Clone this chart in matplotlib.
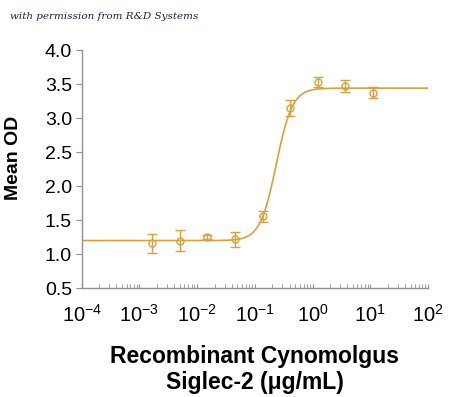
import numpy as np
import matplotlib
matplotlib.use("Agg")
import matplotlib.pyplot as plt
from matplotlib.ticker import LogLocator, FixedLocator

# data
conc = [0.00168, 0.00503, 0.0151, 0.0453, 0.136, 0.407, 1.22, 3.67, 11.0]
mean_od = [1.16, 1.20, 1.25, 1.22, 1.56, 3.15, 3.53, 3.47, 3.37]
err_od = [0.14, 0.15, 0.03, 0.11, 0.08, 0.12, 0.07, 0.09, 0.08]

# 4PL fit parameters (bottom, top, EC50, hill)
fit_bottom = 1.20
fit_top = 3.44
fit_ec50 = 0.235
fit_hill = 3.1

x_ticks = [1e-4, 1e-3, 1e-2, 1e-1, 1e0, 1e1, 1e2]
x_ticklabels = ["$10^{-4}$", "$10^{-3}$", "$10^{-2}$", "$10^{-1}$",
                "$10^{0}$", "$10^{1}$", "$10^{2}$"]
y_ticks = [0.5, 1.0, 1.5, 2.0, 2.5, 3.0, 3.5, 4.0]

col = "#D9A03C"
plt.rcParams["font.family"] = ["Liberation Sans", "DejaVu Sans"]
plt.rcParams["mathtext.fontset"] = "custom"
plt.rcParams["mathtext.rm"] = "Liberation Sans"
plt.rcParams["mathtext.it"] = "Liberation Sans"

fig = plt.figure(figsize=(4.5, 3.97), dpi=100)
ax = fig.add_axes([0.1816, 0.274, 0.951 - 0.1816, 0.874 - 0.274])

xs = np.logspace(-4, 2, 400)
ys = fit_bottom + (fit_top - fit_bottom) / (1 + (fit_ec50 / xs) ** fit_hill)
ax.plot(xs, ys, color=col, lw=1.2)
ax.errorbar(conc, mean_od, yerr=err_od, fmt="o", mfc="none", mec=col,
            ecolor=col, ms=5, mew=1.0, elinewidth=1.0, capsize=3.5, capthick=1.0)

ax.set_xscale("log")
ax.set_xlim(1e-4, 1e2)
ax.set_ylim(0.5, 4.0)
ax.xaxis.set_major_locator(FixedLocator(x_ticks))
ax.set_xticklabels(x_ticklabels, fontsize=14.5)
ax.xaxis.set_minor_locator(LogLocator(base=10, subs=np.arange(2, 10)))
ax.set_yticks(y_ticks)
ax.set_yticklabels(["%.1f" % v for v in y_ticks], fontsize=14)

for s in ["top", "right"]:
    ax.spines[s].set_visible(False)
for s in ["left", "bottom"]:
    ax.spines[s].set_color("#909090")
    ax.spines[s].set_linewidth(1.0)
ax.tick_params(axis="x", which="both", direction="in", length=3, color="#909090", pad=11)
ax.tick_params(axis="y", which="major", direction="out", length=4, color="#909090", pad=3)

# y label placed on the figure so it sits where the reference has it
fig.text(14 / 450, 1 - 158 / 397, "Mean OD", fontsize=14, fontweight="bold",
         rotation=90, ha="center", va="center")
ax.set_xlabel("Recombinant Cynomolgus\nSiglec-2 (\u03bcg/mL)", fontsize=16.5,
              fontweight="bold", linespacing=1.2, labelpad=14)

fig.text(0.022, 0.952, "with permission from R&D Systems", fontsize=7.5,
         style="italic", family="DejaVu Serif", color="#1a2540")

fig.savefig("out.png", dpi=100)
